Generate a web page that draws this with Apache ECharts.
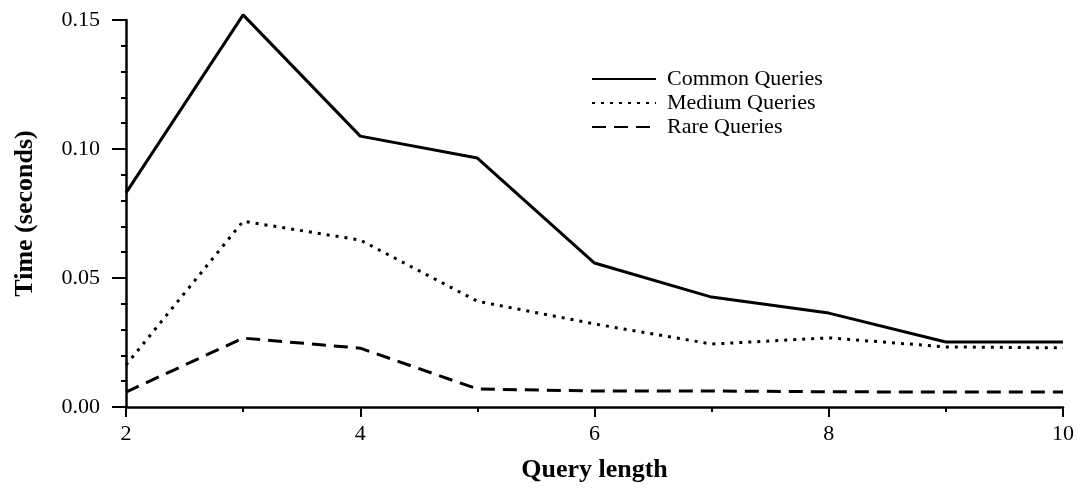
<!DOCTYPE html>
<html>
<head>
<meta charset="utf-8">
<script src="https://cdn.jsdelivr.net/npm/echarts@6/dist/echarts.min.js"></script>
<style>
  html, body { margin: 0; padding: 0; background: #fff; }
  #chart { width: 1078px; height: 489px; }
</style>
</head>
<body>
<div id="chart"></div>
<script>
// query lengths (x)
var queryLength = [2, 3, 4, 5, 6, 7, 8, 9, 10];
// time in seconds
var commonQueries = [0.083, 0.152, 0.105, 0.0965, 0.0558, 0.0426, 0.0364, 0.0252, 0.0252];
var mediumQueries = [0.0163, 0.072, 0.0647, 0.041, 0.0322, 0.0244, 0.0268, 0.0233, 0.0229];
var rareQueries = [0.0058, 0.0267, 0.0228, 0.007, 0.0062, 0.0062, 0.0059, 0.0058, 0.0058];
var seriesNames = ['Common Queries', 'Medium Queries', 'Rare Queries'];

function pairs(vals) {
  return queryLength.map(function (x, i) { return [x, vals[i]]; });
}

var chart = echarts.init(document.getElementById('chart'));
var font = 'Liberation Serif';

var option = {
  animation: false,
  backgroundColor: '#fff',
  grid: { left: 126, right: 15, top: 20, bottom: 82 },
  legend: {
    orient: 'vertical',
    left: 586,
    top: 63,
    itemWidth: 64,
    itemHeight: 22,
    itemGap: 2,
    itemStyle: { opacity: 0 },
    textStyle: { fontFamily: font, fontSize: 22, color: '#000', lineHeight: 22, padding: [0, 0, 0, 6] },
    data: seriesNames
  },
  xAxis: {
    type: 'value',
    min: 2,
    max: 10,
    interval: 2,
    name: 'Query length',
    nameLocation: 'middle',
    nameGap: 50,
    nameTextStyle: { fontFamily: font, fontSize: 26, fontWeight: 'bold', color: '#000' },
    axisLine: { lineStyle: { color: '#000', width: 2.5 } },
    axisTick: { inside: false, length: 10, lineStyle: { color: '#000', width: 2 } },
    minorTick: { show: true, splitNumber: 2, length: 5, lineStyle: { color: '#000', width: 2 } },
    axisLabel: { fontFamily: font, fontSize: 22, color: '#000', margin: 16 },
    splitLine: { show: false }
  },
  yAxis: {
    type: 'value',
    min: 0,
    max: 0.15,
    interval: 0.05,
    name: 'Time (seconds)',
    nameLocation: 'middle',
    nameGap: 88,
    nameTextStyle: { fontFamily: font, fontSize: 26, fontWeight: 'bold', color: '#000' },
    axisLine: { show: true, lineStyle: { color: '#000', width: 2.5 } },
    axisTick: { show: true, inside: false, length: 14, lineStyle: { color: '#000', width: 2 } },
    minorTick: { show: true, splitNumber: 5, length: 5, lineStyle: { color: '#000', width: 2 } },
    axisLabel: {
      fontFamily: font, fontSize: 22, color: '#000', margin: 26,
      formatter: function (v) { return v.toFixed(2); }
    },
    splitLine: { show: false }
  },
  series: [
    {
      name: seriesNames[0],
      type: 'line',
      data: pairs(commonQueries),
      symbol: 'none',
      clip: false,
      color: '#000',
      lineStyle: { color: '#000', width: 3, type: 'solid' }
    },
    {
      name: seriesNames[1],
      type: 'line',
      data: pairs(mediumQueries),
      symbol: 'none',
      clip: false,
      color: '#000',
      lineStyle: { color: '#000', width: 3, type: [3, 6] }
    },
    {
      name: seriesNames[2],
      type: 'line',
      data: pairs(rareQueries),
      symbol: 'none',
      clip: false,
      color: '#000',
      lineStyle: { color: '#000', width: 3, type: [14, 8] }
    }
  ]
};

chart.setOption(option);
window.addEventListener('resize', function () { chart.resize(); });
</script>
</body>
</html>
